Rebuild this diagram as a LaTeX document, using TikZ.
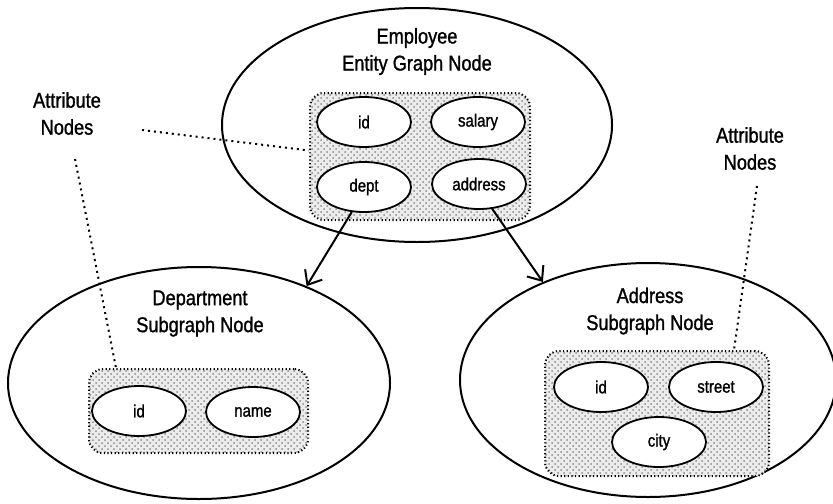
\documentclass[tikz,border=0pt]{standalone}
\usepackage{fontspec}
\usepackage{tikz}
\usetikzlibrary{shapes.geometric,patterns,arrows.meta}
\newfontfamily\diagfont{Liberation Sans}[FakeStretch=0.85,FakeBold=1.2]

\tikzset{
  graphnode/.style={ellipse, draw, line width=1pt, minimum width=#1},
  attrbox/.style={rectangle, rounded corners=7pt, draw,
    dash pattern=on 0.6pt off 1.2pt, line width=1pt,
    preaction={fill=gray!15}, pattern=crosshatch dots, pattern color=gray!90},
  attrnode/.style={ellipse, draw, line width=0.9pt, fill=white,
    minimum width=47pt, minimum height=25pt, inner sep=0pt,
    font=\diagfont\fontsize{8.8}{10}\selectfont},
  title/.style={align=center, font=\diagfont\fontsize{10.7}{13.5}\selectfont},
  pointer/.style={dotted, line width=1pt},
  subarrow/.style={line width=1pt, -{Straight Barb[length=6pt,width=10pt]}}
}

\begin{document}
\begin{tikzpicture}[x=0.5pt, y=-0.5pt]
  \useasboundingbox (0,0) rectangle (833,503);
  % ===== employee entity graph =====
  \node[graphnode=195pt, minimum height=117pt] (empg) at (417,125) {};
  \node[title] (emptitle) at (417,51.5) {Employee\\Entity Graph Node};
  \node[attrbox, minimum width=110pt, minimum height=63.5pt] (empbox) at (420,156.5) {};
  \node[attrnode] (eid) at (364,122) {id};
  \node[attrnode] (esalary) at (478,122) {salary};
  \node[attrnode] (edept) at (364,187) {dept};
  \node[attrnode] (eaddr) at (479,184) {address};
  % ===== department subgraph =====
  \node[graphnode=191pt, minimum height=116pt] (deptg) at (199,383) {};
  \node[title] (depttitle) at (200,313.5) {Department\\Subgraph Node};
  \node[attrbox, minimum width=109.5pt, minimum height=42pt] (deptbox) at (198.5,411) {};
  \node[attrnode] (did) at (139,411) {id};
  \node[attrnode] (dname) at (253,412) {name};
  % ===== address subgraph =====
  \node[graphnode=188pt, minimum height=117pt] (addrg) at (648,380) {};
  \node[title] (addrtitle) at (650,311) {Address\\Subgraph Node};
  \node[attrbox, minimum width=112pt, minimum height=62.5pt] (addrbox) at (657,413.5) {};
  \node[attrnode] (aid) at (601,387) {id};
  \node[attrnode] (astreet) at (716,387) {street};
  \node[attrnode] (acity) at (659,442) {city};
  % subgraph links
  \draw[subarrow] (edept.-116) -- (deptg.42);
  \draw[subarrow] (eaddr.-62) -- (addrg.137);
  % ===== labels =====
  \node[title] (leftlbl) at (67,113.5) {Attribute\\Nodes};
  \node[title] (rightlbl) at (750,148.5) {Attribute\\Nodes};
  \coordinate (lt1) at (142,130);
  \coordinate (lt2) at (75,159);
  \coordinate (rt) at (757,186);
  \draw[pointer] (lt1) -- ([yshift=3pt]empbox.west);
  \draw[pointer] (lt2) -- ([xshift=14pt]deptbox.north west);
  \draw[pointer] (rt) -- ([xshift=-18pt]addrbox.north east);
\end{tikzpicture}
\end{document}
